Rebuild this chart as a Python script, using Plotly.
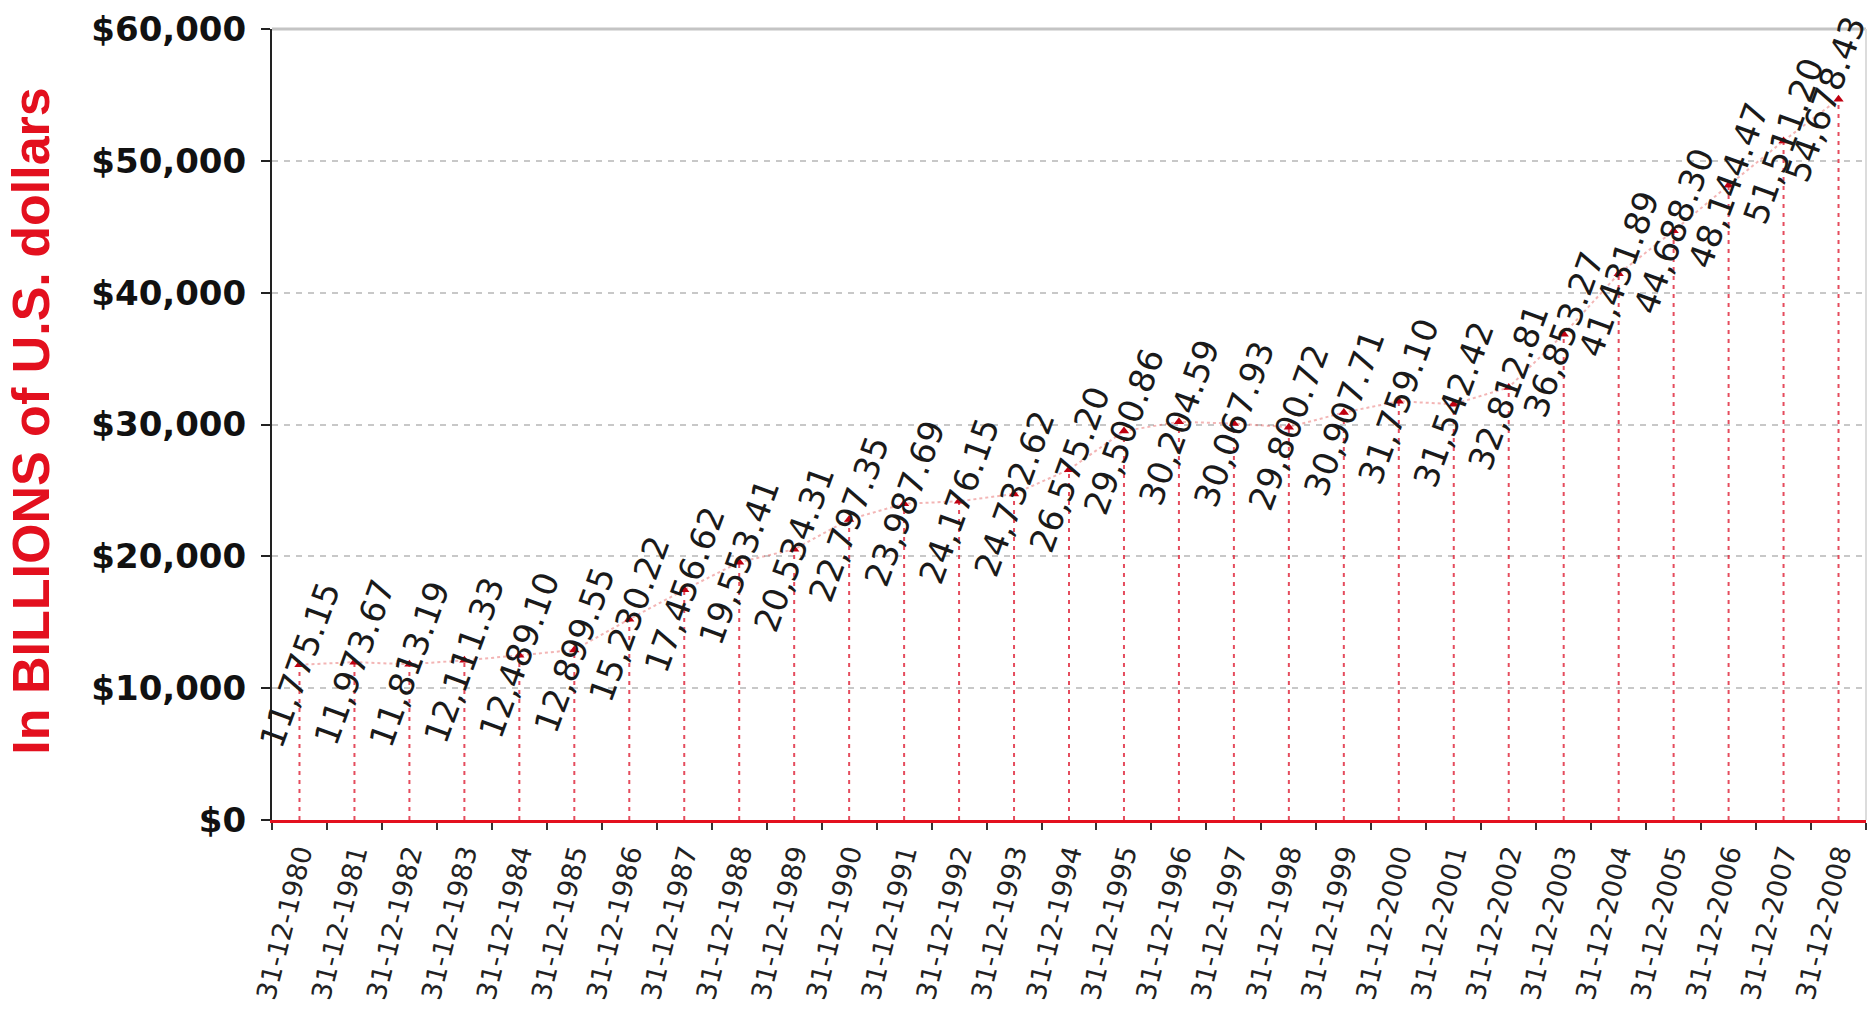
import plotly.graph_objects as go

# Year-end dates and the values (billions of U.S. dollars)
dates = ["31-12-1980", "31-12-1981", "31-12-1982", "31-12-1983", "31-12-1984",
         "31-12-1985", "31-12-1986", "31-12-1987", "31-12-1988", "31-12-1989",
         "31-12-1990", "31-12-1991", "31-12-1992", "31-12-1993", "31-12-1994",
         "31-12-1995", "31-12-1996", "31-12-1997", "31-12-1998", "31-12-1999",
         "31-12-2000", "31-12-2001", "31-12-2002", "31-12-2003", "31-12-2004",
         "31-12-2005", "31-12-2006", "31-12-2007", "31-12-2008"]
values = [11775.15, 11973.67, 11813.19, 12111.33, 12489.10,
          12899.55, 15230.22, 17456.62, 19553.41, 20534.31,
          22797.35, 23987.69, 24176.15, 24732.62, 26575.20,
          29500.86, 30204.59, 30067.93, 29800.72, 30907.71,
          31759.10, 31542.42, 32812.81, 36853.27, 41431.89,
          44688.30, 48144.47, 51511.20, 54678.43]
y_ticks = [0, 10000, 20000, 30000, 40000, 50000, 60000]
y_tick_labels = ["$0", "$10,000", "$20,000", "$30,000", "$40,000", "$50,000", "$60,000"]
y_title = "In BILLIONS of U.S. dollars"

RED = "#e3101e"

# vertical drop lines from each point down to the axis
drop_x, drop_y = [], []
for d, v in zip(dates, values):
    drop_x += [d, d, None]
    drop_y += [0, v, None]

fig = go.Figure()
fig.add_trace(go.Scatter(
    x=drop_x, y=drop_y, mode="lines", hoverinfo="skip",
    line=dict(color="rgba(225,45,65,0.85)", width=2, dash="4px,5px"),
))
fig.add_trace(go.Scatter(
    x=dates, y=values, mode="lines+markers",
    line=dict(color="rgba(225,70,70,0.4)", width=2, dash="dot"),
    marker=dict(symbol="triangle-up", size=9, color="#c00010"),
))

# rotated value labels centred on each point (last one nudged to stay on the page)
for i, (d, v) in enumerate(zip(dates, values)):
    fig.add_annotation(
        x=d, y=v, text=f"{v:,.2f}", showarrow=False, textangle=-70,
        xanchor="center", yanchor="middle",
        xshift=-13 if i == len(dates) - 1 else 0,
        font=dict(family="DejaVu Sans", size=34, color="#1a1a1a"),
    )

# y-axis title
fig.add_annotation(
    xref="paper", yref="paper", x=-0.151, y=0.504, text=y_title,
    showarrow=False, textangle=-90, xanchor="center", yanchor="middle",
    font=dict(family="Liberation Sans", size=52, color=RED, weight="bold"),
)

# light grey frame on the top and right of the plot area
fig.add_shape(type="line", xref="paper", yref="paper", x0=0, x1=1, y0=1, y1=1,
              line=dict(color="#c4c4c4", width=3))
fig.add_shape(type="line", xref="paper", yref="paper", x0=1, x1=1, y0=0, y1=1,
              line=dict(color="#dcdcdc", width=2))

fig.update_layout(
    width=1873, height=1010,
    margin=dict(l=272, r=7, t=29, b=188),
    paper_bgcolor="white", plot_bgcolor="white",
    showlegend=False,
    xaxis=dict(
        type="category", categoryorder="array", categoryarray=dates,
        range=[-0.5, len(dates) - 0.5],
        showline=True, linecolor=RED, linewidth=3,
        showgrid=False, zeroline=False,
        ticks="outside", tickson="boundaries", ticklen=7, tickcolor="#333333", tickwidth=2,
        tickangle=-76, ticklabelstandoff=4,
        tickfont=dict(family="DejaVu Sans", size=27, color="#222222"),
    ),
    yaxis=dict(
        range=[0, 60000], tickvals=y_ticks, ticktext=y_tick_labels,
        showline=True, linecolor="#222222", linewidth=2,
        ticks="outside", ticklen=9, tickcolor="#222222", tickwidth=2,
        ticklabelstandoff=8,
        showgrid=True, gridcolor="#c8c8c8", gridwidth=2, griddash="6px,6px",
        zeroline=False,
        tickfont=dict(family="DejaVu Sans", size=34, color="#111111", weight="bold"),
    ),
)

fig.write_html("out.html")
